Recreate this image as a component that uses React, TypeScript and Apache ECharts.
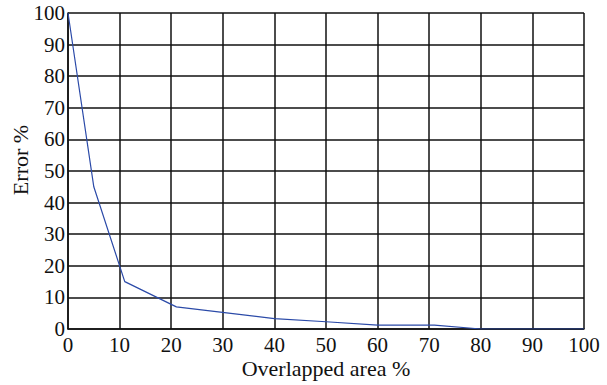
import React, { useEffect, useRef } from "react";
import * as echarts from "echarts";

const overlap = [0, 5, 11, 21, 40, 50, 60, 71, 80, 90, 100];
const errorPct = [100, 45, 15, 7, 3.3, 2.3, 1.2, 1.2, 0, 0, 0];

const FONT = "'Liberation Serif', 'Times New Roman', serif";
const FS = 21;
const NFS = 22;

export default function App() {
  const ref = useRef<HTMLDivElement>(null);
  useEffect(() => {
    const chart = echarts.init(ref.current!, null, { renderer: "svg" });
    chart.setOption({
      animation: false,
      backgroundColor: "#fff",
      grid: { left: 68, right: 23, top: 13, bottom: 56, containLabel: false, outerBoundsMode: "none" },
      xAxis: {
        type: "value",
        min: 0,
        max: 100,
        interval: 10,
        name: "Overlapped area %",
        nameLocation: "middle",
        nameGap: 28,
        nameMoveOverlap: false,
        nameTextStyle: { fontFamily: FONT, fontSize: NFS, color: "#111" },
        axisLine: { show: true, lineStyle: { color: "#111", width: 1.5 } },
        axisTick: { show: false },
        axisLabel: { fontFamily: FONT, fontSize: FS, color: "#111", margin: 8, lineHeight: 16 },
        splitLine: { show: true, lineStyle: { color: "#111", width: 1.5 } },
      },
      yAxis: {
        type: "value",
        min: 0,
        max: 100,
        interval: 10,
        name: "Error %",
        nameLocation: "middle",
        nameGap: 37,
        nameMoveOverlap: false,
        nameTextStyle: { fontFamily: FONT, fontSize: NFS, color: "#111", padding: [0, 0, 0, 22] },
        axisLine: { show: true, lineStyle: { color: "#111", width: 1.5 } },
        axisTick: { show: false },
        axisLabel: { fontFamily: FONT, fontSize: FS, color: "#111", margin: 3, lineHeight: 16 },
        splitLine: { show: true, lineStyle: { color: "#111", width: 1.5 } },
      },
      series: [
        {
          type: "line",
          data: overlap.map((x, i) => [x, errorPct[i]]),
          showSymbol: false,
          lineStyle: { color: "#2b4aa8", width: 1.2 },
        },
      ],
    });
    return () => chart.dispose();
  }, []);
  return <div ref={ref} style={{ width: 607, height: 385, position: "absolute", left: 0, top: 0 }} />;
}
